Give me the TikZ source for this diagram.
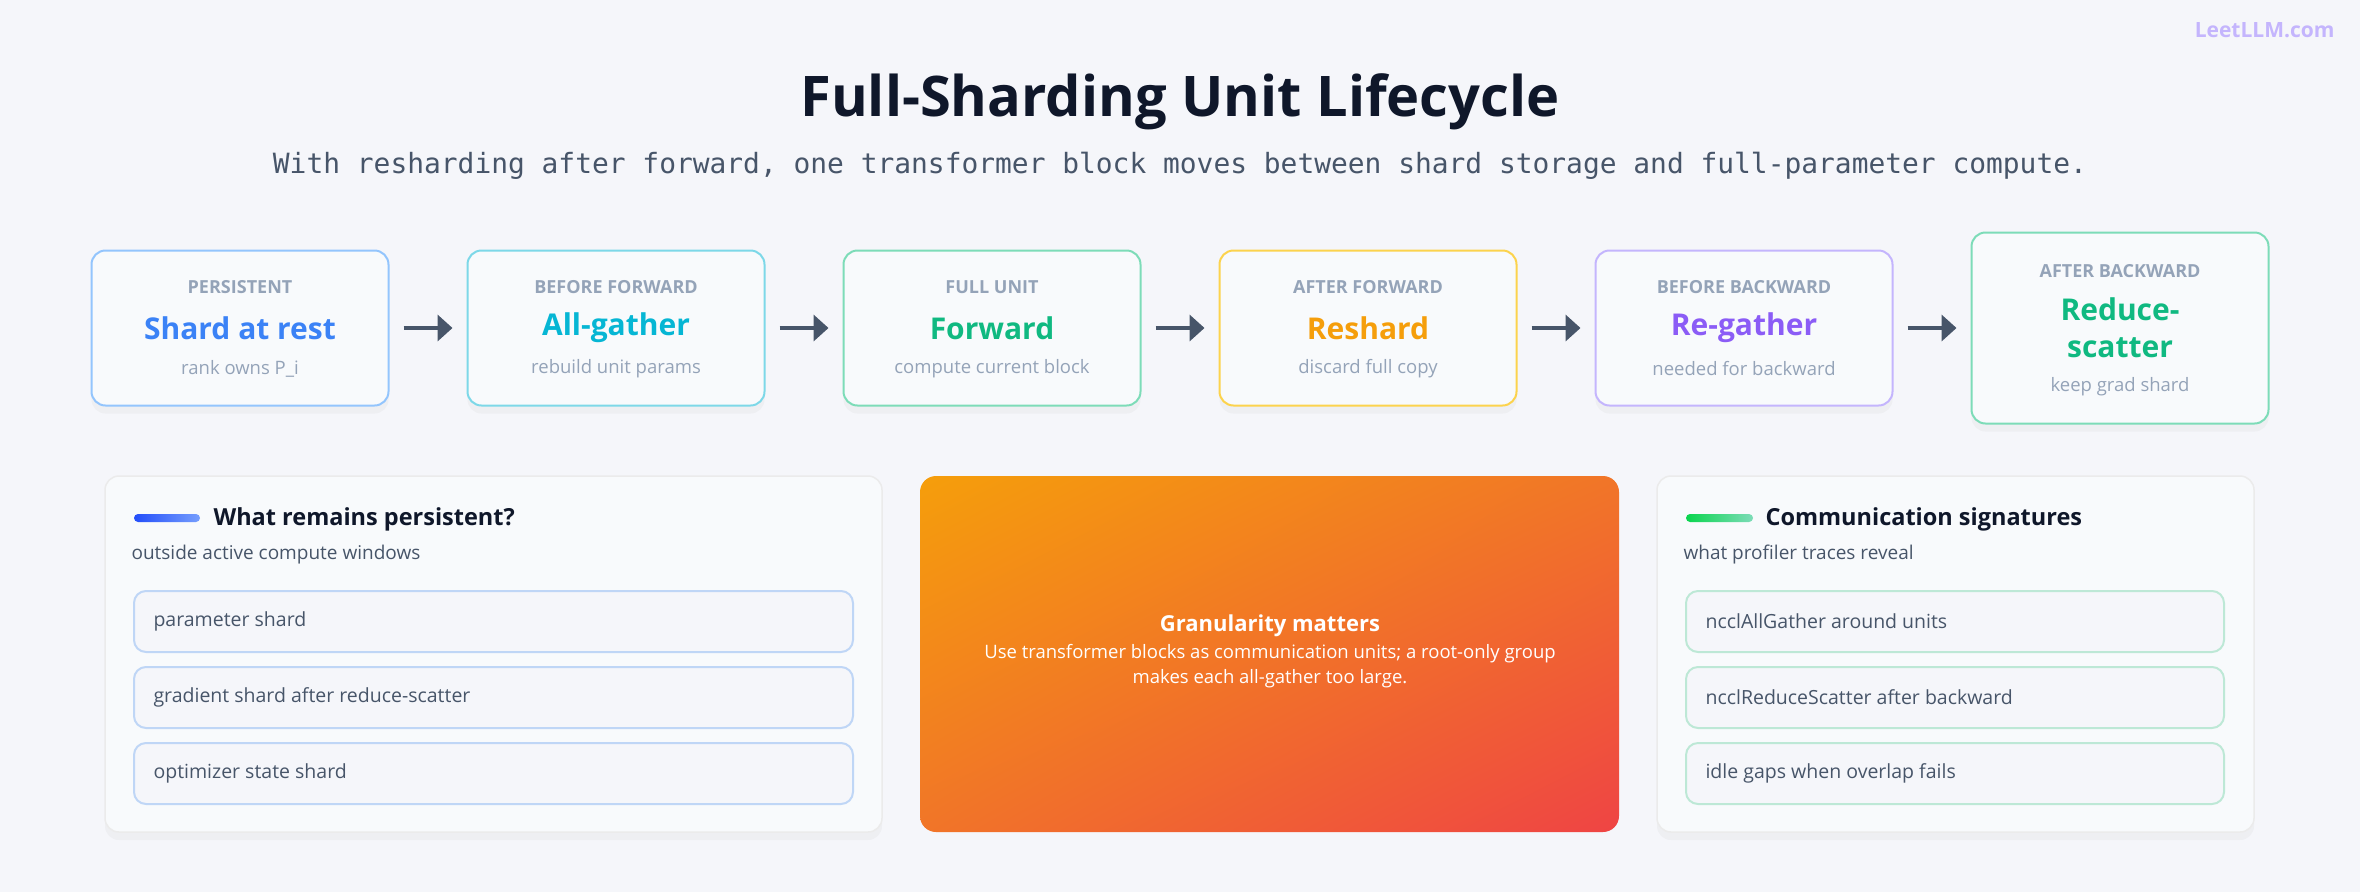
\documentclass[tikz,border=0pt]{standalone}
\usepackage{fontspec}
\setmainfont{Open Sans}
\newfontfamily\monofont{DejaVu Sans Mono}
\usetikzlibrary{positioning,shadows,shadings,arrows.meta}
\definecolor{bgcol}{HTML}{F5F6FA}
\definecolor{cardcol}{HTML}{F8FAFC}
\definecolor{inkcol}{HTML}{0F172A}
\definecolor{greycol}{HTML}{94A3B8}
\definecolor{slatecol}{HTML}{475569}
\definecolor{arrowcol}{HTML}{475569}
\definecolor{bluecol}{HTML}{3B82F6}\definecolor{blueline}{HTML}{93C5FD}
\definecolor{cyancol}{HTML}{06B6D4}\definecolor{cyanline}{HTML}{7DD8E8}
\definecolor{greencol}{HTML}{10B981}\definecolor{greenline}{HTML}{7DDCB8}
\definecolor{orangecol}{HTML}{F59E0B}\definecolor{orangeline}{HTML}{FCD34D}
\definecolor{purplecol}{HTML}{8B5CF6}\definecolor{purpleline}{HTML}{C4B5FD}
\definecolor{redcol}{HTML}{EF4444}
\definecolor{midcol}{HTML}{F17528}
\definecolor{itemline}{HTML}{BFD6F6}
\definecolor{itemgreen}{HTML}{BDE8D6}
\tikzset{
  stagebox/.style={draw=#1, line width=2pt, fill=cardcol, rounded corners=14pt,
    minimum width=297pt, minimum height=155pt, inner sep=0pt,
    drop shadow={shadow xshift=0pt, shadow yshift=-8pt, opacity=0.06}},
  stagelabel/.style={font=\bfseries\fontsize{18}{22}\selectfont, text=greycol},
  stagetitle/.style={font=\bfseries\fontsize{30}{37}\selectfont, text=#1, align=center},
  stagesub/.style={font=\fontsize{18.5}{22}\selectfont, text=greycol},
  flow/.style={-{Triangle[length=15pt,width=26pt]}, line width=4pt, draw=arrowcol},
  panel/.style={draw=black!8, line width=1.5pt, fill=cardcol, rounded corners=14pt,
    drop shadow={shadow xshift=0pt, shadow yshift=-8pt, opacity=0.06}},
  itembox/.style={draw=#1, line width=2pt, fill=bgcol, rounded corners=12pt,
    minimum height=61pt, inner sep=0pt},
  itemtext/.style={font=\fontsize{19.5}{24}\selectfont, text=slatecol, anchor=west},
  panelhead/.style={font=\bfseries\fontsize{23.5}{28}\selectfont, text=inkcol, anchor=west},
  panelsub/.style={font=\fontsize{19}{22}\selectfont, text=slatecol, anchor=west},
}
\begin{document}
\begin{tikzpicture}[x=1pt,y=-1pt]
  \fill[bgcol] (0,0) rectangle (2360,892);
  \useasboundingbox (0,0) rectangle (2360,892);
%% heading
  \node (wm) [anchor=east, font=\bfseries\fontsize{21}{24}\selectfont, text=purpleline] at (2338,30) {LeetLLM.com};
  \node (title) [font=\bfseries\fontsize{56}{64}\selectfont, text=inkcol] at (1180,102) {Full-Sharding Unit Lifecycle};
  \node (subtitle) [font=\monofont\fontsize{27.9}{32}\selectfont, text=slatecol] at (1180,166)
    {With resharding after forward, one transformer block moves between shard storage and full-parameter compute.};
%% stages
  \node (s1) [stagebox=blueline] at (240,328) {};
  \node (s2) [stagebox=cyanline] at (616,328) {};
  \node (s3) [stagebox=greenline] at (992,328) {};
  \node (s4) [stagebox=orangeline] at (1368,328) {};
  \node (s5) [stagebox=purpleline] at (1744,328) {};
  \node (s6) [stagebox=greenline, minimum height=191pt] at (2120,328) {};
  \foreach \n/\lab/\ttl/\sub/\col in {s1/PERSISTENT/Shard at rest/rank owns P\_i/bluecol,
      s2/BEFORE FORWARD/All-gather/rebuild unit params/cyancol,
      s3/FULL UNIT/Forward/compute current block/greencol,
      s4/AFTER FORWARD/Reshard/discard full copy/orangecol,
      s5/BEFORE BACKWARD/Re-gather/needed for backward/purplecol}{
    \node (\n-lab) [stagelabel] at ([yshift=41pt]\n.center) {\lab};
    \node (\n-ttl) [stagetitle=\col] at (\n.center) {\ttl};
    \node (\n-sub) [stagesub] at ([yshift=-41pt]\n.center) {\sub};
  }
  \node (s6-lab) [stagelabel] at ([yshift=57pt]s6.center) {AFTER BACKWARD};
  \node (s6-ttl) [stagetitle=greencol] at (s6.center) {Reduce-\\scatter};
  \node (s6-sub) [stagesub] at ([yshift=-59pt]s6.center) {keep grad shard};
  \foreach \a/\b in {s1/s2,s2/s3,s3/s4,s4/s5,s5/s6}
    \draw[flow] ([xshift=14pt]\a.east) -- ([xshift=-14pt]\b.west);
%% left panel
  \draw[panel] (105,476) rectangle (882,832);
  \shade[left color=blue!40!bluecol, right color=blue!20!blueline, rounded corners=4pt]
    (134,514) rectangle (200,522);
  \node (lhead) [panelhead] at (210,519) {What remains persistent?};
  \node (lsub) [panelsub] at (128,555) {outside active compute windows};
  \foreach \i/\t [count=\k] in {p1/parameter shard,p2/gradient shard after reduce-scatter,p3/optimizer state shard}{
    \node (\i) [itembox=itemline, minimum width=719pt] at (493.5,545.5+76*\k) {};
    \node (\i-t) [itemtext] at ([xshift=17pt]\i.west) {\t};
  }
%% middle panel
  \begin{scope}
    \clip[rounded corners=16pt] (920,476) rectangle (1619,832);
    \shade[upper left=orangecol, upper right=midcol, lower left=midcol, lower right=redcol]
      (920,476) rectangle (1619,832);
  \end{scope}
  \node (gran) [font=\bfseries\fontsize{22}{27}\selectfont, text=white] at (1270,626) {Granularity matters};
  \node (granbody) [font=\fontsize{18.5}{25}\selectfont, text=white, align=center, below=0pt of gran]
    {Use transformer blocks as communication units; a root-only group\\makes each all-gather too large.};
%% right panel
  \draw[panel] (1657,476) rectangle (2254,832);
  \shade[left color=green!40!greencol, right color=greenline, rounded corners=4pt]
    (1686,514) rectangle (1753,522);
  \node (rhead) [panelhead] at (1762,519) {Communication signatures};
  \node (rsub) [panelsub] at (1680,555) {what profiler traces reveal};
  \foreach \i/\t [count=\k] in {c1/ncclAllGather around units,c2/ncclReduceScatter after backward,c3/idle gaps when overlap fails}{
    \node (\i) [itembox=itemgreen, minimum width=538pt] at (1955,545.5+76*\k) {};
    \node (\i-t) [itemtext] at ([xshift=17pt]\i.west) {\t};
  }
\end{tikzpicture}
\end{document}
